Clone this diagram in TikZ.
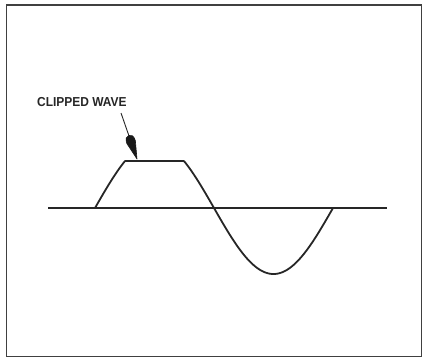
\documentclass[tikz,border=0pt]{standalone}
\usepackage{fontspec}
\setmainfont{Liberation Sans}
\usetikzlibrary{arrows.meta}
\begin{document}
\begin{tikzpicture}[x=1pt,y=-1pt,
  frame/.style={draw=black!75,line width=1.5pt},
  axisline/.style={draw=black!85,line width=1.4pt},
  wave/.style={draw=black!85,line width=1.8pt,line join=round},
  pointer/.style={draw=black!85,line width=0.9pt},
  headfill/.style={fill=black!90,draw=black!90,line width=0.6pt,line join=round},
  lbl/.style={font=\fontsize{13}{15}\selectfont\bfseries,inner sep=0pt,text=black!85,xscale=0.92}]
\useasboundingbox (0,0) rectangle (422,359);
\draw[frame] (6.5,5) rectangle (421.5,356.5);
\coordinate (axL) at (48,208);
\coordinate (axR) at (387,208);
\draw[axisline] (axL) -- (axR);
\draw[wave] plot[domain=95:333,samples=240] (\x,{208-min(66*sin(1.512605*(\x-95)),47)});
\node[lbl,anchor=base west] (label) at (37,106.5) {CLIPPED WAVE};
\coordinate (ptrStart) at (121,113);
\coordinate (ptrTip) at (137,159);
\coordinate (ptrBack) at (128.8,135.4);
\draw[pointer] (ptrStart) -- (ptrBack);
\path[headfill] (ptrTip) -- (135.34,140.52) .. controls (133.7,135.8) and (131.6,134.4) .. (ptrBack)
  .. controls (126.0,136.4) and (125.2,138.8) .. (126.84,143.48) -- cycle;
\end{tikzpicture}
\end{document}
